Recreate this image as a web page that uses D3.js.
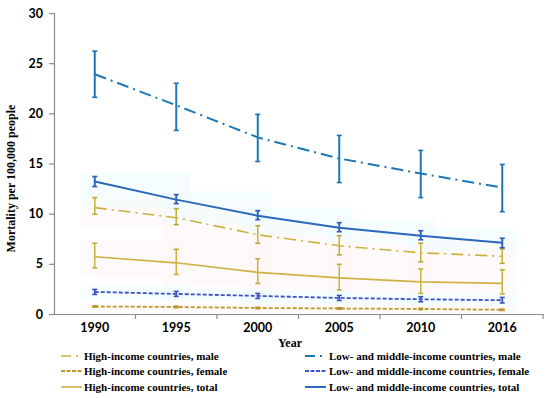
<!DOCTYPE html>
<html><head><meta charset="utf-8">
<script src="https://cdn.jsdelivr.net/npm/d3@7"></script>
<style>body{margin:0;background:#fff}svg{display:block}</style>
</head><body>
<svg id="c" width="550" height="398"></svg>
<script>
const years = ["1990","1995","2000","2005","2010","2016"];
const yTicks = [0,5,10,15,20,25,30];

const lmicMale     = [23.9, 20.8, 17.6, 15.5, 14.0, 12.6];
const lmicMaleLo   = [21.6, 18.3, 15.2, 13.1, 11.6, 10.2];
const lmicMaleHi   = [26.2, 23.0, 19.9, 17.8, 16.3, 14.9];

const lmicTotal    = [13.2, 11.4, 9.8, 8.6, 7.8, 7.1];
const lmicTotalLo  = [12.7, 11.0, 9.4, 8.2, 7.4, 6.6];
const lmicTotalHi  = [13.7, 11.9, 10.3, 9.1, 8.3, 7.55];

const lmicFemale   = [2.2, 2.0, 1.8, 1.6, 1.47, 1.37];
const lmicFemaleLo = [1.95, 1.75, 1.55, 1.35, 1.22, 1.1];
const lmicFemaleHi = [2.45, 2.25, 2.05, 1.85, 1.72, 1.65];

const hicMale      = [10.6, 9.6, 7.9, 6.8, 6.1, 5.75];
const hicMaleLo    = [9.95, 8.9, 7.05, 5.9, 5.2, 5.05];
const hicMaleHi    = [11.6, 10.5, 8.8, 7.8, 7.05, 6.5];

const hicTotal     = [5.7, 5.1, 4.15, 3.6, 3.2, 3.05];
const hicTotalLo   = [4.6, 3.95, 3.05, 2.4, 2.05, 2.0];
const hicTotalHi   = [7.05, 6.45, 5.5, 4.95, 4.5, 4.4];

const hicFemale    = [0.75, 0.7, 0.6, 0.55, 0.5, 0.42];
const hicFemaleLo  = [0.68, 0.63, 0.53, 0.48, 0.43, 0.35];
const hicFemaleHi  = [0.82, 0.77, 0.67, 0.62, 0.57, 0.49];

const series = [
  {name:"High-income countries, male", v:hicMale, lo:hicMaleLo, hi:hicMaleHi, color:"#c9b23e", dash:"12,5,2,5", w:1.6, cap:"#b9a93a", glow:"#fef6f9"},
  {name:"High-income countries, female", v:hicFemale, lo:hicFemaleLo, hi:hicFemaleHi, color:"#bc9a28", dash:"4,2", w:1.8, cap:"#b8982a", glow:"#fef6f9"},
  {name:"High-income countries, total", v:hicTotal, lo:hicTotalLo, hi:hicTotalHi, color:"#cfb244", dash:null, w:1.6, cap:"#bfae3e", glow:"#fef6f9"},
  {name:"Low- and middle-income countries, male", v:lmicMale, lo:lmicMaleLo, hi:lmicMaleHi, color:"#1c78b5", dash:"12,5,2,5", w:2, cap:"#1c72b2", glow:"#f5fcfe"},
  {name:"Low- and middle-income countries, female", v:lmicFemale, lo:lmicFemaleLo, hi:lmicFemaleHi, color:"#3c52bf", dash:"4,2", w:1.8, cap:"#3c52bf", glow:"#f0fbfd"},
  {name:"Low- and middle-income countries, total", v:lmicTotal, lo:lmicTotalLo, hi:lmicTotalHi, color:"#2b68bb", dash:null, w:2, cap:"#3356b8", glow:"#f0fbfd"}
];

const svg = d3.select("#c");
const L = 54, R = 543, T = 13, B = 314;
const x = d3.scaleBand().domain(years).range([L, R]);
const y = d3.scaleLinear().domain([0, 30]).range([B, T]);
const cx = d => x(d) + x.bandwidth()/2;

// faint glow bands
const glow = svg.append("g");
series.forEach(s => {
  if (s.v === lmicMale) return;
  for (let i = 0; i < years.length - 1; i++) {
    const top = Math.max(s.hi[i], s.hi[i+1]), bot = Math.min(s.lo[i], s.lo[i+1]);
    glow.append("rect")
      .attr("x", cx(years[i]) - 14).attr("width", x.bandwidth() + 28)
      .attr("y", y(top) - 3).attr("height", y(bot) - y(top) + 6)
      .attr("fill", s.glow).attr("opacity", 0.6);
  }
});

// axes
const yAxis = d3.axisLeft(y).tickValues(yTicks).tickSize(5).tickPadding(6);
const gy = svg.append("g").attr("transform", `translate(${L},0)`).call(yAxis);
const xAxis = d3.axisBottom(x).tickSize(0).tickPadding(9);
const gx = svg.append("g").attr("transform", `translate(0,${B})`).call(xAxis);
[gy, gx].forEach(g => {
  g.select(".domain").attr("stroke", "#8c8c8c").attr("stroke-width", 1.2);
  g.selectAll(".tick line").attr("stroke", "#8c8c8c").attr("stroke-width", 1.2);
  g.selectAll("text").attr("fill", "#000").style("font-family", "Lato, 'Open Sans', sans-serif")
    .style("font-weight", "bold").style("font-size", "12.5px");
});
// x tick marks at band boundaries
svg.append("g").selectAll("line").data(years.slice(1).concat(["end"])).join("line")
  .attr("x1", (d,i) => L + x.bandwidth()*(i+1)).attr("x2", (d,i) => L + x.bandwidth()*(i+1))
  .attr("y1", B).attr("y2", B + 5).attr("stroke", "#8c8c8c").attr("stroke-width", 1.2);

// titles
svg.append("text").attr("transform", `translate(15,${(T+B)/2 + 15}) rotate(-90)`)
  .attr("text-anchor", "middle").style("font-family", "'Liberation Serif', 'Times New Roman', serif")
  .style("font-weight", "bold").style("font-size", "12px").text("Mortality per 100,000 people");
svg.append("text").attr("x", 290).attr("y", 347).attr("text-anchor", "middle")
  .style("font-family", "'Liberation Serif', 'Times New Roman', serif").style("font-weight", "bold")
  .style("font-size", "12px").text("Year");

// series
const line = d3.line().x((d,i) => cx(years[i])).y(d => y(d));
series.forEach(s => {
  const g = svg.append("g");
  g.append("path").datum(s.v).attr("d", line).attr("fill", "none")
    .attr("stroke", s.color).attr("stroke-width", s.w)
    .attr("stroke-dasharray", s.dash);
  years.forEach((yr, i) => {
    const xx = cx(yr);
    g.append("line").attr("x1", xx).attr("x2", xx).attr("y1", y(s.lo[i])).attr("y2", y(s.hi[i]))
      .attr("stroke", s.color).attr("stroke-width", s.w);
    [s.lo[i], s.hi[i]].forEach(v => {
      g.append("line").attr("x1", xx - 2.5).attr("x2", xx + 2.5).attr("y1", y(v)).attr("y2", y(v))
        .attr("stroke", s.cap).attr("stroke-width", 1.6);
    });
  });
});

// legend
const leg = svg.append("g");
series.forEach((s, i) => {
  const col = Math.floor(i / 3), row = i % 3;
  const lx = col === 0 ? 61 : 305, tx = col === 0 ? 84 : 329;
  const ly = [356, 371, 387][row];
  leg.append("line").attr("x1", lx).attr("x2", lx + 21).attr("y1", ly).attr("y2", ly)
    .attr("stroke", s.color).attr("stroke-width", s.w)
    .attr("stroke-dasharray", s.dash ? (s.dash === "4,2" ? "4,1.5" : "10,5,2,5") : null);
  leg.append("text").attr("x", tx).attr("y", ly + 4)
    .style("font-family", "'Liberation Serif', 'Times New Roman', serif").style("font-weight", "bold")
    .style("font-size", "11px").text(s.name);
});
</script>
</body></html>
